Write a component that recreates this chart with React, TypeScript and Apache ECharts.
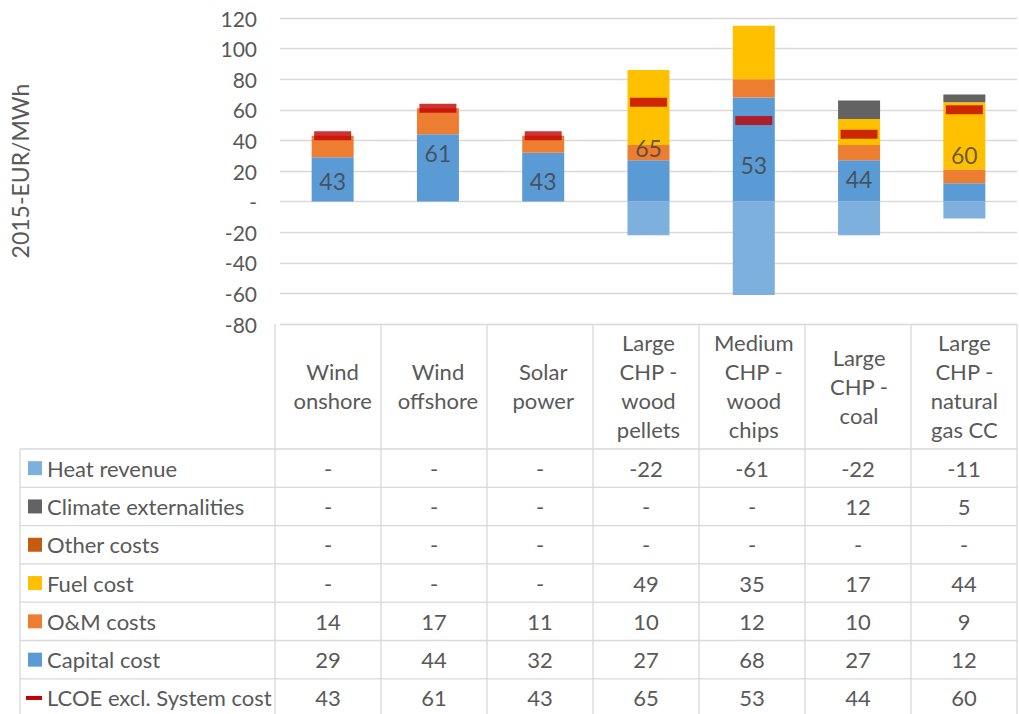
import React, { useEffect, useRef } from 'react';
import * as echarts from 'echarts';

// ---------- DATA ----------
const categories = [
  'Wind\nonshore',
  'Wind\noffshore',
  'Solar\npower',
  'Large\nCHP -\nwood\npellets',
  'Medium\nCHP -\nwood\nchips',
  'Large\nCHP -\ncoal',
  'Large\nCHP -\nnatural\ngas CC',
];
const heatRevenue = [null, null, null, -22, -61, -22, -11];
const climateExternalities = [null, null, null, null, null, 12, 5];
const otherCosts = [null, null, null, null, null, null, null];
const fuelCost = [null, null, null, 49, 35, 17, 44];
const omCosts = [14, 17, 11, 10, 12, 10, 9];
const capitalCost = [29, 44, 32, 27, 68, 27, 12];
const lcoe = [43, 61, 43, 65, 53, 44, 60];

const Y_MIN = -80;
const Y_MAX = 120;
const Y_INTERVAL = 20;

// ---------- LAYOUT / STYLE ----------
const W = 1019;
const H = 714;
const GRID_LEFT = 275;
const GRID_RIGHT_EDGE = 1017;
const GRID_TOP = 18;
const GRID_BOTTOM_Y = 324;
const TABLE_TOP = 449;
const TABLE_LEFT = 20;
const ROW_H = 38.3;
// label anchors (in value units) where the LCOE numbers are written inside the bars
const labelAnchor = [13.7, 32, 13.7, 35, 23.7, 14.8, 30.3];

const FONT = 'Lato, "Open Sans", sans-serif';
const TXT = '#595959';
const GRIDC = '#D9D9D9';

const C_HEAT = '#7EB0DE';
const C_CLIMATE = '#636363';
const C_OTHER = '#C55A11';
const C_FUEL = '#FFC000';
const C_OM = '#ED7D31';
const C_CAP = '#5B9BD5';
const C_LCOE = '#C00000';

const tableRows = [
  { name: 'Heat revenue', values: heatRevenue, color: C_HEAT, line: false },
  { name: 'Climate externalities', values: climateExternalities, color: C_CLIMATE, line: false },
  { name: 'Other costs', values: otherCosts, color: C_OTHER, line: false },
  { name: 'Fuel cost', values: fuelCost, color: C_FUEL, line: false },
  { name: 'O&M costs', values: omCosts, color: C_OM, line: false },
  { name: 'Capital cost', values: capitalCost, color: C_CAP, line: false },
  { name: 'LCOE excl. System cost', values: lcoe, color: C_LCOE, line: true },
];

function buildTable(): any[] {
  const els: any[] = [];
  const n = categories.length;
  const colW = (GRID_RIGHT_EDGE - GRID_LEFT) / n;
  const lineStyle = { stroke: GRIDC, lineWidth: 1.3 };
  // vertical separators
  for (let i = 0; i <= n; i++) {
    const x = GRID_LEFT + i * colW;
    els.push({ type: 'line', shape: { x1: x, y1: GRID_BOTTOM_Y, x2: x, y2: H + 5 }, style: lineStyle, silent: true });
  }
  els.push({ type: 'line', shape: { x1: TABLE_LEFT, y1: TABLE_TOP, x2: TABLE_LEFT, y2: H + 5 }, style: lineStyle, silent: true });
  // horizontal separators
  for (let r = 0; r <= tableRows.length; r++) {
    const y = TABLE_TOP + r * ROW_H;
    els.push({ type: 'line', shape: { x1: TABLE_LEFT, y1: y, x2: GRID_RIGHT_EDGE, y2: y }, style: lineStyle, silent: true });
  }
  tableRows.forEach((row, r) => {
    const cy = TABLE_TOP + (r + 0.5) * ROW_H;
    if (row.line) {
      els.push({ type: 'rect', shape: { x: 26, y: cy - 2, width: 16, height: 4 }, style: { fill: row.color }, silent: true });
    } else {
      els.push({ type: 'rect', shape: { x: 28, y: cy - 7, width: 14, height: 14 }, style: { fill: row.color }, silent: true });
    }
    els.push({
      type: 'text', x: 47, y: cy,
      style: { text: row.name, fill: TXT, font: `22px ${FONT}`, textAlign: 'left', textVerticalAlign: 'middle' },
      silent: true,
    });
    row.values.forEach((v, i) => {
      els.push({
        type: 'text', x: GRID_LEFT + (i + 0.5) * colW, y: cy,
        style: {
          text: v === null || v === 0 ? '-' : String(v),
          fill: TXT, font: `22px ${FONT}`, textAlign: 'center', textVerticalAlign: 'middle',
        },
        silent: true,
      });
    });
  });
  return els;
}

export default function App() {
  const ref = useRef<HTMLDivElement>(null);
  useEffect(() => {
    if (!ref.current) return;
    const chart = echarts.init(ref.current, null, { renderer: 'svg' });
    const barBase = { type: 'bar', stack: 'total', barWidth: 42, barGap: '-100%' };
    chart.setOption({
      animation: false,
      backgroundColor: '#fff',
      textStyle: { fontFamily: FONT },
      grid: {
        left: GRID_LEFT,
        right: W - GRID_RIGHT_EDGE,
        top: GRID_TOP,
        bottom: H - GRID_BOTTOM_Y,
        containLabel: false,
      },
      xAxis: {
        type: 'category',
        data: categories,
        axisLine: { show: false },
        axisTick: { show: false },
        axisLabel: {
          interval: 0,
          margin: 62,
          verticalAlign: 'middle',
          lineHeight: 29,
          fontSize: 22,
          color: TXT,
          fontFamily: FONT,
        },
      },
      yAxis: {
        type: 'value',
        min: Y_MIN,
        max: Y_MAX,
        interval: Y_INTERVAL,
        name: '2015-EUR/MWh',
        nameLocation: 'middle',
        nameRotate: 90,
        nameGap: 249,
        nameTextStyle: { fontSize: 23, color: TXT, fontFamily: FONT },
        axisLine: { show: false },
        axisTick: { show: false },
        axisLabel: {
          margin: 23,
          fontSize: 21,
          color: TXT,
          fontFamily: FONT,
          formatter: (v: number) => (v === 0 ? '-' : String(v)),
        },
        splitLine: { lineStyle: { color: GRIDC, width: 1.3 } },
      },
      series: [
        { ...barBase, name: 'Capital cost', data: capitalCost, itemStyle: { color: C_CAP } },
        { ...barBase, name: 'O&M costs', data: omCosts, itemStyle: { color: C_OM } },
        { ...barBase, name: 'Fuel cost', data: fuelCost, itemStyle: { color: C_FUEL } },
        { ...barBase, name: 'Other costs', data: otherCosts, itemStyle: { color: C_OTHER } },
        { ...barBase, name: 'Climate externalities', data: climateExternalities, itemStyle: { color: C_CLIMATE } },
        { ...barBase, name: 'Heat revenue', data: heatRevenue, itemStyle: { color: C_HEAT } },
        {
          type: 'scatter',
          name: 'LCOE excl. System cost',
          data: lcoe,
          symbol: 'rect',
          symbolSize: [37, 9],
          itemStyle: { color: C_LCOE },
          z: 5,
        },
        {
          type: 'scatter',
          name: 'LCOE label',
          data: labelAnchor.map((a, i) => ({ value: a, lcoe: lcoe[i] })),
          symbolSize: 1,
          itemStyle: { color: 'rgba(0,0,0,0)' },
          label: {
            show: true,
            position: 'inside',
            formatter: (p: any) => String(lcoe[p.dataIndex]),
            fontSize: 23,
            color: '#404040',
            fontFamily: FONT,
          },
          z: 6,
        },
      ],
      graphic: buildTable(),
    });
    return () => chart.dispose();
  }, []);
  return (
    <div
      ref={ref}
      style={{ position: 'absolute', left: 0, top: 0, width: W, height: H, background: '#fff' }}
    />
  );
}
